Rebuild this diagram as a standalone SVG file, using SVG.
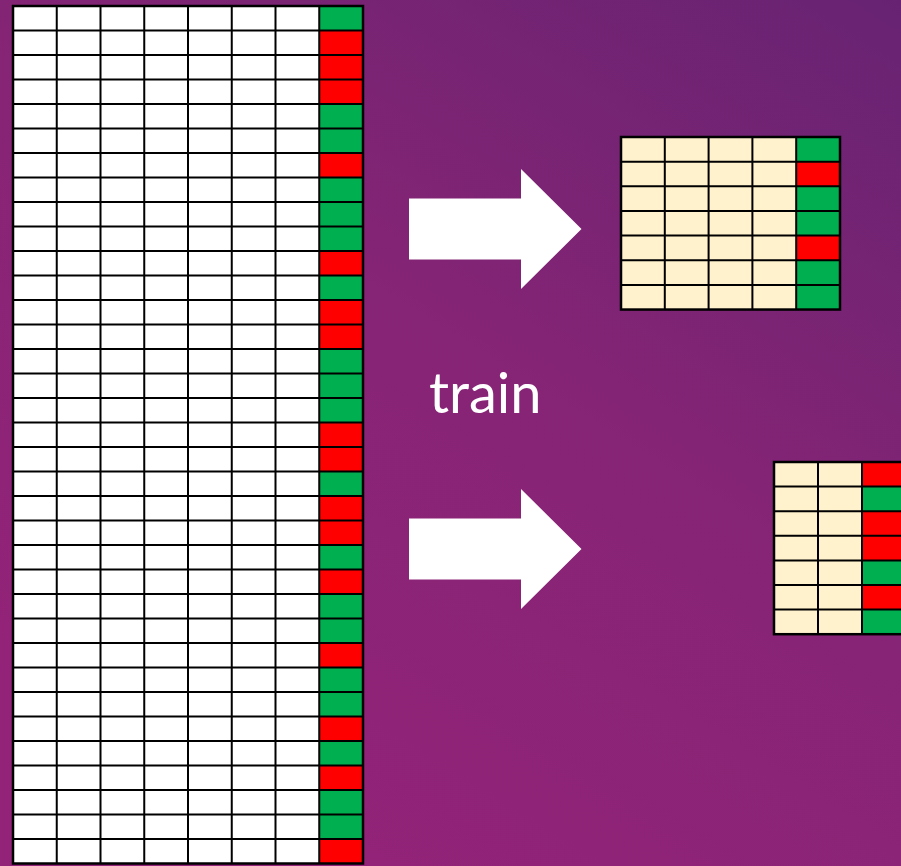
<svg xmlns="http://www.w3.org/2000/svg" width="901" height="866" viewBox="0 0 901 866">
<defs>
<linearGradient id="bg" x1="1" y1="0" x2="0.35" y2="1">
<stop offset="0" stop-color="#672372"/>
<stop offset="0.5" stop-color="#862475"/>
<stop offset="1" stop-color="#932378"/>
</linearGradient>
<style>
.grid{fill:none;stroke:#000;stroke-width:2}
.outer{fill:none;stroke:#000;stroke-width:2.5}
.g{fill:#00B050}
.r{fill:#FF0000}
.w{fill:#FFFFFF}
.c{fill:#FFF2CC}
.arrow{fill:#FFFFFF}
.lbl{font-family:Lato,"Open Sans",sans-serif;font-size:56px;fill:#FFFFFF}
</style>
</defs>
<rect x="0" y="0" width="901" height="866" fill="url(#bg)"/>

<g id="dataset">
<rect class="w" x="13" y="6" width="306.25" height="857.5"/>
<rect class="g" x="319.25" y="6" width="43.75" height="857.5"/>
<rect class="r" x="319.25" y="30.5" width="43.75" height="73.5"/>
<rect class="r" x="319.25" y="153" width="43.75" height="24.5"/>
<rect class="r" x="319.25" y="251" width="43.75" height="24.5"/>
<rect class="r" x="319.25" y="300" width="43.75" height="49"/>
<rect class="r" x="319.25" y="422.5" width="43.75" height="49"/>
<rect class="r" x="319.25" y="496" width="43.75" height="49"/>
<rect class="r" x="319.25" y="569.5" width="43.75" height="24.5"/>
<rect class="r" x="319.25" y="643" width="43.75" height="24.5"/>
<rect class="r" x="319.25" y="716.5" width="43.75" height="24.5"/>
<rect class="r" x="319.25" y="765.5" width="43.75" height="24.5"/>
<rect class="r" x="319.25" y="839" width="43.75" height="24.5"/>
<path class="grid" d="M56.75 6V863.5M100.5 6V863.5M144.25 6V863.5M188 6V863.5M231.75 6V863.5M275.5 6V863.5M319.25 6V863.5
M13 30.5H363M13 55H363M13 79.5H363M13 104H363M13 128.5H363M13 153H363M13 177.5H363M13 202H363M13 226.5H363M13 251H363M13 275.5H363M13 300H363M13 324.5H363M13 349H363M13 373.5H363M13 398H363M13 422.5H363M13 447H363M13 471.5H363M13 496H363M13 520.5H363M13 545H363M13 569.5H363M13 594H363M13 618.5H363M13 643H363M13 667.5H363M13 692H363M13 716.5H363M13 741H363M13 765.5H363M13 790H363M13 814.5H363M13 839H363"/>
<rect class="outer" x="13" y="6" width="350" height="857.5"/>
</g>

<g id="subset-a">
<rect class="c" x="621" y="137" width="175.2" height="172.55"/>
<rect class="g" x="796.2" y="137" width="43.8" height="172.55"/>
<rect class="r" x="796.2" y="161.65" width="43.8" height="24.65"/>
<rect class="r" x="796.2" y="235.6" width="43.8" height="24.65"/>
<path class="grid" d="M664.8 137V309.55M708.6 137V309.55M752.4 137V309.55M796.2 137V309.55
M621 161.65H840M621 186.3H840M621 210.95H840M621 235.6H840M621 260.25H840M621 284.9H840"/>
<rect class="outer" x="621" y="137" width="219" height="172.55"/>
</g>

<g id="subset-b">
<rect class="c" x="774" y="462" width="88" height="172.2"/>
<rect class="g" x="862" y="462" width="44" height="172.2"/>
<rect class="r" x="862" y="462" width="44" height="24.6"/>
<rect class="r" x="862" y="511.2" width="44" height="49.2"/>
<rect class="r" x="862" y="585" width="44" height="24.6"/>
<path class="grid" d="M818 462V634.2M862 462V634.2
M774 486.6H906M774 511.2H906M774 535.8H906M774 560.4H906M774 585H906M774 609.6H906"/>
<rect class="outer" x="774" y="462" width="132" height="172.2"/>
</g>

<g id="connectors">
<polygon class="arrow" points="409,198.5 521,198.5 521,169 581.5,229 521,289 521,259.5 409,259.5"/>
<polygon class="arrow" points="409,518.5 521,518.5 521,489 581.5,549 521,609 521,579.5 409,579.5"/>
</g>

<g id="label">
<text class="lbl" x="429" y="413">train</text>
</g>
</svg>
